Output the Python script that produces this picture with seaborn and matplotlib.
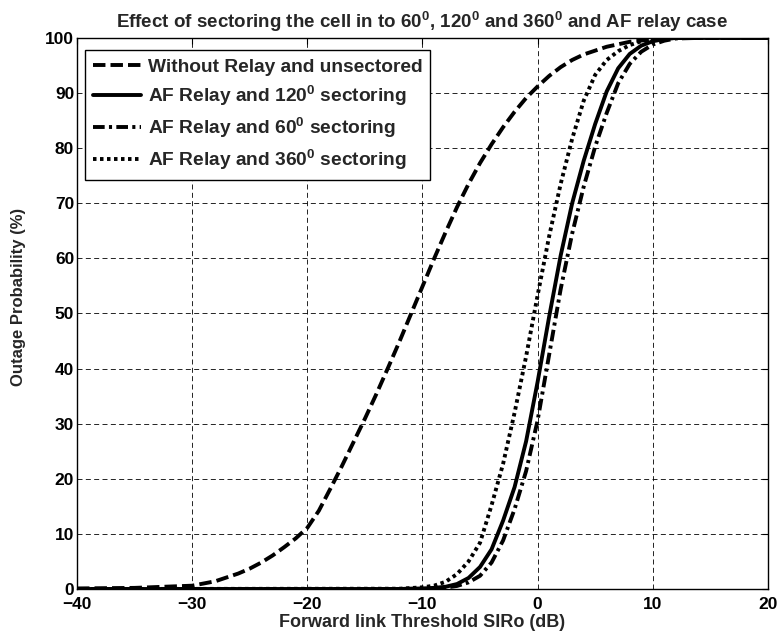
import numpy as np
import pandas as pd
import seaborn as sns
import matplotlib.pyplot as plt
from matplotlib.lines import Line2D

# Werte
x_norelay = [-40, -35, -30, -28, -26, -25, -24, -23, -22, -21, -20, -19, -18, -17, -16, -15,
             -14, -13, -12, -11, -10, -9, -8, -7, -6, -5, -4, -3, -2, -1, 0, 1, 2, 3, 4,
             6, 8, 10, 12, 15, 20]
y_norelay = [0.1, 0.2, 0.6, 1.4, 2.8, 3.7, 4.8, 6.1, 7.6, 9.2, 11.1, 14.2, 18.2, 22.3, 26.6,
             30.9, 35.4, 40.1, 44.9, 49.9, 54.9, 59.9, 64.7, 69.3, 73.5, 77.3, 80.7, 83.8,
             86.6, 89.1, 91.2, 93.1, 94.7, 96.0, 97.0, 98.4, 99.3, 99.75, 100, 100, 100]

x_relay = [-40, -12, -10, -9, -8, -7, -6, -5, -4, -3, -2, -1, 0, 1, 2, 3, 4, 5, 6, 7, 8, 9,
           10, 11, 12, 14, 20]
y_af120 = [0, 0, 0.1, 0.2, 0.4, 0.9, 2.0, 4.0, 7.2, 12.4, 18.5, 26.8, 37.6, 49.4, 60.5, 70.0,
           77.7, 84.4, 90.3, 94.5, 97.1, 98.6, 99.4, 99.8, 100, 100, 100]
y_af60 = [0, 0, 0.05, 0.1, 0.25, 0.55, 1.2, 2.4, 4.8, 8.8, 14.5, 21.4, 30.6, 42.5, 54.4, 64.5,
          73.0, 80.3, 86.4, 91.8, 95.3, 97.5, 98.8, 99.5, 99.9, 100, 100]
y_af360 = [0, 0.05, 0.3, 0.6, 1.3, 2.7, 5.0, 8.4, 15.2, 22.7, 32.0, 42.2, 53.3, 64.0, 73.5,
           81.7, 88.6, 93.3, 96.0, 97.6, 98.7, 99.4, 99.8, 100, 100, 100, 100]

labels = ['Without Relay and unsectored',
          r'AF Relay and 120$^{\mathbf{0}}$ sectoring',
          r'AF Relay and 60$^{\mathbf{0}}$ sectoring',
          r'AF Relay and 360$^{\mathbf{0}}$ sectoring']

sns.set_style('white')
plt.rcParams['font.family'] = ['Liberation Sans', 'DejaVu Sans']
plt.rcParams['font.weight'] = 'bold'
plt.rcParams['mathtext.fontset'] = 'custom'
plt.rcParams['mathtext.rm'] = 'Liberation Sans:bold'
plt.rcParams['mathtext.bf'] = 'Liberation Sans:bold'

fig, ax = plt.subplots(figsize=(7.82, 6.43), dpi=100)
fig.subplots_adjust(left=0.0985, right=0.982, top=0.941, bottom=0.084)

lw = 2.8
styles = [(0, (3.2, 1.3)), '-', (0, (3.0, 1.1, 0.8, 1.1)), (0, (0.9, 0.9))]
series = [(x_norelay, y_norelay), (x_relay, y_af120), (x_relay, y_af60), (x_relay, y_af360)]

handles = []
for (xs, ys), ls, lab in zip(series, styles, labels):
    df = pd.DataFrame({'x': xs, 'y': ys})
    sns.lineplot(data=df, x='x', y='y', ax=ax, color='black', linewidth=lw,
                 linestyle=ls, legend=False)
    handles.append(Line2D([], [], color='black', linewidth=lw, linestyle=ls))

ax.set_xlim(-40, 20)
ax.set_ylim(0, 100)
ax.set_xticks(np.arange(-40, 21, 10))
ax.set_yticks(np.arange(0, 101, 10))
ax.grid(True, color='black', linestyle=(0, (6, 4)), linewidth=0.6)
for s in ax.spines.values():
    s.set_visible(True)
    s.set_color('black')
    s.set_linewidth(1.0)
ax.tick_params(direction='in', length=4, width=0.8, labelsize=12.5, colors='black',
               top=True, right=True, pad=2)
ax.tick_params(axis='x', pad=5.5)
for t in ax.get_xticklabels() + ax.get_yticklabels():
    t.set_fontweight('bold')

ax.set_title(r'Effect of sectoring the cell in to 60$^{\mathbf{0}}$, 120$^{\mathbf{0}}$ and 360$^{\mathbf{0}}$ and AF relay case',
             fontsize=13.5, fontweight='bold', pad=7)
ax.set_xlabel('Forward link Threshold SIRo (dB)', fontsize=13, fontweight='bold', labelpad=2)
ax.set_ylabel('Outage Probability (%)', fontsize=12, fontweight='bold')
ax.yaxis.set_label_coords(-0.074, 0.53)

leg = ax.legend(handles, labels, loc='upper left', bbox_to_anchor=(0.0116, 0.978),
                fontsize=13.8, handlelength=2.5, frameon=True, fancybox=False,
                edgecolor='black', framealpha=1, borderaxespad=0, labelspacing=0.38,
                handletextpad=0.35, borderpad=0.42)
leg.get_frame().set_linewidth(1.0)
for t in leg.get_texts():
    t.set_fontweight('bold')

fig.savefig('out.png', dpi=100)
